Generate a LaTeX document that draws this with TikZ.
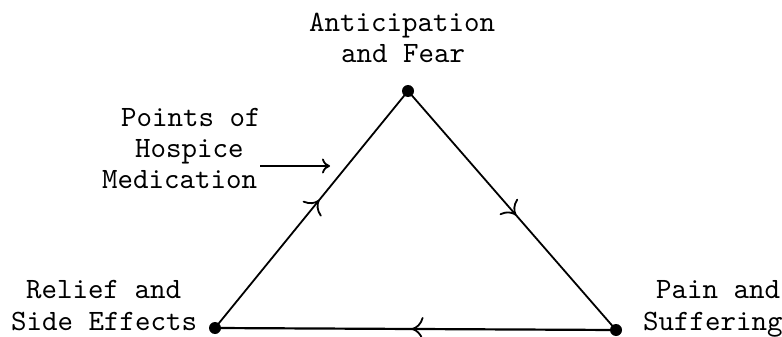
\documentclass[tikz,border=0pt]{standalone}
\usepackage{fontspec}
\newfontfamily\twfont{lmmono10-regular.otf}
\usetikzlibrary{arrows.meta,decorations.markings}
\begin{document}
\begin{tikzpicture}[x=1pt,y=-1pt,
  lbl/.style={font=\fontsize{29.5}{30}\selectfont\twfont, inner sep=0pt, anchor=base west},
  edge/.style={line width=1.8pt},
  dot/.style={circle, fill=black, inner sep=0pt, minimum size=12pt},
  mid/.style={postaction={decorate}, decoration={markings, mark=at position #1 with {\arrow{Computer Modern Rightarrow[length=12pt,width=24pt,line width=1.8pt]}}}}
]
\useasboundingbox (0,0) rectangle (782,337);
\node[dot] (A) at (408,91) {};
\node[dot] (P) at (616,330) {};
\node[dot] (R) at (215,328) {};
\draw[edge, mid=0.54] (R.center) -- (A.center);
\draw[edge, mid=0.52] (A.center) -- (P.center);
\draw[edge, line width=2.2pt, mid=0.51] (P.center) -- (R.center);
\node[lbl] (a1) at (309,32) {Anticipation};
\node[lbl] (a2) at (341,63) {and Fear};
\node[lbl] (h1) at (121,126) {Points of};
\node[lbl] (h2) at (135,157) {Hospice};
\node[lbl] (h3) at (102,188) {Medication};
\node[lbl] (r1) at (26,298) {Relief and};
\node[lbl] (r2) at (11,330) {Side Effects};
\node[lbl] (p1) at (656,298) {Pain and};
\node[lbl] (p2) at (643,330) {Suffering};
\coordinate (ms) at (260,166);
\coordinate (me) at (330,166);
\draw[edge, -{Computer Modern Rightarrow[length=8pt,width=15pt]}] (ms) -- (me);
\end{tikzpicture}
\end{document}
